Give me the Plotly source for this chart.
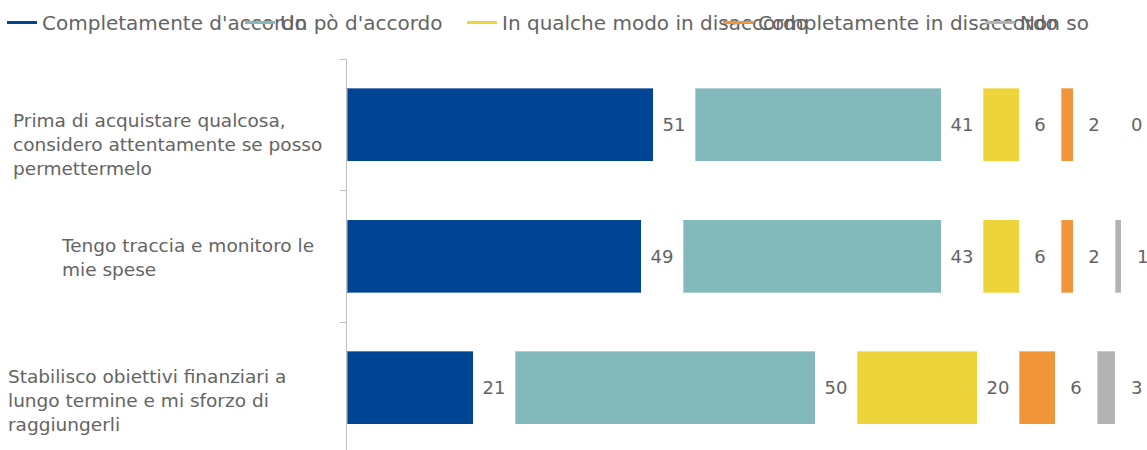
import plotly.graph_objects as go

# Survey statements (one line per list entry)
statements = [
    "Prima di acquistare qualcosa, considero attentamente se posso permettermelo",
    "Tengo traccia e monitoro le mie spese",
    "Stabilisco obiettivi finanziari a lungo termine e mi sforzo di raggiungerli",
]
statement_lines = [
    ["Prima di acquistare qualcosa,", "considero attentamente se posso", "permettermelo"],
    ["Tengo traccia e monitoro le", "mie spese"],
    ["Stabilisco obiettivi finanziari a", "lungo termine e mi sforzo di", "raggiungerli"],
]

# Answer categories and percentages per statement
answer_names = [
    "Completamente d'accordo",
    "Un pò d'accordo",
    "In qualche modo in disaccordo",
    "Completamente in disaccordo",
    "Non so",
]
completamente_accordo = [51, 49, 21]
poco_accordo = [41, 43, 50]
qualche_disaccordo = [6, 6, 20]
completamente_disaccordo = [2, 2, 6]
non_so = [0, 1, 3]

series = [completamente_accordo, poco_accordo, qualche_disaccordo,
          completamente_disaccordo, non_so]
colors = ["#004494", "#84b9bb", "#ecd43a", "#f0953a", "#b3b3b3"]

# Styling / layout constants
GAP = 7                      # blank space after each segment, holds the value label
TEXT_GREY = "#646464"
FONT = "DejaVu Sans"
W, H = 1147, 450
LEFT, TOP = 347, 59
PX_PER_UNIT = 6
legend_x_px = [7, 245, 467, 723, 985]
label_left_px = [11, 59, 6]
label_yshift = [-20, -1, -13]

fig = go.Figure()
annotations = []

offsets = [0] * len(statements)
for i, (name, vals, col) in enumerate(zip(answer_names, series, colors)):
    last = i == len(series) - 1
    fig.add_trace(go.Bar(
        y=statements, x=vals, orientation="h", name=name,
        marker=dict(color=col, line=dict(color="rgba(255,255,255,0.35)", width=1)),
        showlegend=False, hoverinfo="x+name",
    ))
    offsets = [o + v for o, v in zip(offsets, vals)]
    if not last:
        # transparent spacer carrying the value label of the segment before it
        fig.add_trace(go.Bar(
            y=statements, x=[GAP] * len(vals), orientation="h",
            marker=dict(color="rgba(0,0,0,0)", line=dict(width=0)),
            text=[str(v) for v in vals], textposition="inside",
            insidetextanchor="middle", constraintext="none", textangle=0,
            textfont=dict(color=TEXT_GREY, size=18, family=FONT),
            showlegend=False, hoverinfo="skip",
        ))
        offsets = [o + GAP for o in offsets]
    else:
        # the final labels sit past the stack end, near the right edge
        for st, o, v in zip(statements, offsets, vals):
            annotations.append(dict(
                xref="x", yref="y", x=o + GAP / 2, y=st, text=str(v),
                showarrow=False, xanchor="center", yanchor="middle",
                font=dict(size=18, color=TEXT_GREY, family=FONT),
            ))
    # legend entry drawn as a short line
    lid = "legend" if i == 0 else f"legend{i + 1}"
    fig.add_trace(go.Scatter(
        x=[None], y=[None], mode="lines", name=name,
        line=dict(color=col, width=3), legend=lid, showlegend=True,
    ))

x_max = (W - LEFT) / PX_PER_UNIT
plot_h = H - TOP
y_bottom = -0.5 + plot_h / 131.5

layout_legends = {}
for i, xp in enumerate(legend_x_px):
    key = "legend" if i == 0 else f"legend{i + 1}"
    layout_legends[key] = dict(
        xref="container", yref="container", x=(xp - 5) / W, y=1 - 3 / H,
        xanchor="left", yanchor="top", orientation="h",
        font=dict(size=20, color=TEXT_GREY, family=FONT),
        bgcolor="rgba(0,0,0,0)", borderwidth=0, itemwidth=30,
    )

for lines, lx, ys, st in zip(statement_lines, label_left_px, label_yshift, statements):
    annotations.append(dict(
        xref="paper", yref="y", x=(lx - LEFT) / (W - LEFT), y=st,
        xanchor="left", yanchor="middle", align="left", showarrow=False,
        yshift=ys, text="<br>".join(lines),
        font=dict(size=18.5, color=TEXT_GREY, family=FONT),
    ))

fig.update_layout(
    width=W, height=H,
    margin=dict(l=LEFT, r=0, t=TOP, b=0),
    barmode="stack", bargap=0.445,
    paper_bgcolor="white", plot_bgcolor="white",
    font=dict(family=FONT, color=TEXT_GREY),
    xaxis=dict(range=[0, x_max], visible=False, fixedrange=True),
    yaxis=dict(
        type="category", range=[y_bottom, -0.5],
        showticklabels=False, showgrid=False, zeroline=False,
        showline=True, linecolor="#bfbfbf", linewidth=1,
        ticks="outside", tickson="boundaries", ticklen=6, tickcolor="#bfbfbf",
    ),
    annotations=annotations,
    **layout_legends,
)

fig.write_html("out.html")
